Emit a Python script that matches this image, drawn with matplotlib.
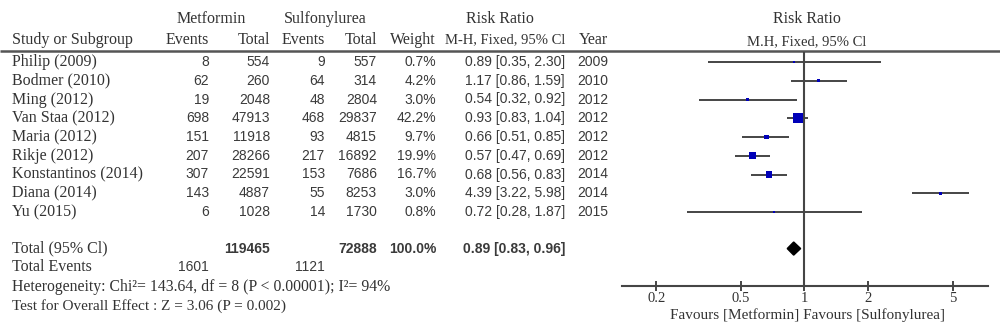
import matplotlib.pyplot as plt
import numpy as np

# study data
studies = ['Philip (2009)', 'Bodmer (2010)', 'Ming (2012)', 'Van Staa (2012)', 'Maria (2012)',
           'Rikje (2012)', 'Konstantinos (2014)', 'Diana (2014)', 'Yu (2015)']
met_events = [8, 62, 19, 698, 151, 207, 307, 143, 6]
met_total = [554, 260, 2048, 47913, 11918, 28266, 22591, 4887, 1028]
sul_events = [9, 64, 48, 468, 93, 217, 153, 55, 14]
sul_total = [557, 314, 2804, 29837, 4815, 16892, 7686, 8253, 1730]
weight = [0.7, 4.2, 3.0, 42.2, 9.7, 19.9, 16.7, 3.0, 0.8]
rr = [0.89, 1.17, 0.54, 0.93, 0.66, 0.57, 0.68, 4.39, 0.72]
ci_low = [0.35, 0.86, 0.32, 0.83, 0.51, 0.47, 0.56, 3.22, 0.28]
ci_high = [2.30, 1.59, 0.92, 1.04, 0.85, 0.69, 0.83, 5.98, 1.87]
years = [2009, 2010, 2012, 2012, 2012, 2012, 2014, 2014, 2015]

tot_met, tot_sul = 119465, 72888
tot_met_events, tot_sul_events = 1601, 1121
tot_weight = 100.0
tot_rr, tot_low, tot_high = 0.89, 0.83, 0.96

ticks = [0.2, 0.5, 1, 2, 5]

SERIF = 'Liberation Serif'
SANS = 'Liberation Sans'
TXT = '#333333'
NUM = '#3a3a3a'
LINE = '#454545'

W, H = 1000, 332
fig = plt.figure(figsize=(W / 100, H / 100), dpi=100)

# background axes in pixel units for the table
bg = fig.add_axes([0, 0, 1, 1])
bg.set_xlim(0, W)
bg.set_ylim(H, 0)
bg.axis('off')

ROW0, STEP = 62, 18.75


def row_y(i):
    return ROW0 + STEP * i


def serif(x, y, s, ha='left', size=11.5, weight='normal'):
    bg.text(x, y, s, ha=ha, va='center', fontsize=size, family=SERIF, color=TXT, weight=weight)


def sans(x, y, s, ha='right', size=10, weight='normal'):
    bg.text(x, y, s, ha=ha, va='center', fontsize=size, family=SANS, color=NUM, weight=weight)


# column right edges
C_ME, C_MT, C_SE, C_ST, C_W, C_RR, C_Y = 209, 270, 325, 377, 436, 565, 608

# headers
serif(211, 19, 'Metformin', ha='center')
serif(325, 19, 'Sulfonylurea', ha='center')
serif(500, 19, 'Risk Ratio', ha='center')
serif(807, 19, 'Risk Ratio', ha='center')
serif(12, 40, 'Study or Subgroup')
serif(C_ME, 40, 'Events', ha='right')
serif(C_MT, 40, 'Total', ha='right')
serif(C_SE, 40, 'Events', ha='right')
serif(C_ST, 40, 'Total', ha='right')
serif(C_W, 40, 'Weight', ha='right')
serif(C_RR, 40, 'M-H, Fixed, 95% Cl', ha='right', size=10.5)
serif(C_Y, 40, 'Year', ha='right')
serif(807, 42, 'M.H, Fixed, 95% Cl', ha='center', size=10.5)
bg.plot([0, W], [51, 51], color='#555555', lw=1.8, solid_capstyle='butt')

for i, name in enumerate(studies):
    y = row_y(i)
    serif(12, y, name)
    sans(C_ME, y, str(met_events[i]))
    sans(C_MT, y, str(met_total[i]))
    sans(C_SE, y, str(sul_events[i]))
    sans(C_ST, y, str(sul_total[i]))
    sans(C_W, y, f'{weight[i]:.1f}%')
    sans(C_RR, y, f'{rr[i]:.2f} [{ci_low[i]:.2f}, {ci_high[i]:.2f}]')
    sans(C_Y, y, str(years[i]))

yt = row_y(9.95)
serif(12, yt, 'Total (95% Cl)')
sans(C_MT, yt, str(tot_met), weight='bold')
sans(C_ST, yt, str(tot_sul), weight='bold')
sans(C_W, yt, f'{tot_weight:.1f}%', weight='bold')
sans(C_RR, yt, f'{tot_rr:.2f} [{tot_low:.2f}, {tot_high:.2f}]', weight='bold')

ye = row_y(10.95)
serif(12, ye, 'Total Events')
sans(C_ME, ye, str(tot_met_events))
sans(C_SE, ye, str(tot_sul_events))
serif(12, row_y(12), 'Heterogeneity: Chi\u00b2= 143.64, df = 8 (P < 0.00001); I\u00b2= 94%', size=11.3)
serif(12, row_y(13), 'Test for Overall Effect : Z = 3.06 (P = 0.002)', size=11)

# forest plot axes
x0, x1, ytop, ybot = 622, 988, 52, 286
ax = fig.add_axes([x0 / W, 1 - ybot / H, (x1 - x0) / W, (ybot - ytop) / H])
ax.patch.set_alpha(0)
ax.set_xscale('log')
ax.set_xlim(0.138, 7.34)
ax.set_ylim((ybot - ROW0) / STEP, (ytop - ROW0) / STEP)

rows = np.arange(len(studies))
ax.hlines(rows, ci_low, ci_high, color=LINE, lw=1.4)
ax.scatter(rr, rows, marker='s', s=[max(1.25 * w, 2.5) for w in weight],
           color='#0000b8', zorder=3, linewidths=0)

tr = 9.95
ax.fill([tot_low, tot_rr, tot_high, tot_rr], [tr, tr - 0.35, tr, tr + 0.35],
        color='black', zorder=3)
ax.axvline(1, color=LINE, lw=1.5, zorder=1)

for s in ['top', 'left', 'right']:
    ax.spines[s].set_visible(False)
ax.spines['bottom'].set_color(LINE)
ax.spines['bottom'].set_linewidth(1.5)
ax.set_yticks([])
ax.set_xticks(ticks)
ax.set_xticklabels([f'{t:g}' for t in ticks], family=SERIF, fontsize=10.5, color=TXT)
ax.xaxis.set_minor_locator(plt.NullLocator())
ax.tick_params(axis='x', direction='inout', length=7, width=1.4, color=LINE, pad=1)
bg.text(808, 315, 'Favours [Metformin] Favours [Sulfonylurea]', ha='center', va='center',
        fontsize=11, family=SERIF, color=TXT)

fig.savefig('out.png', dpi=100)
